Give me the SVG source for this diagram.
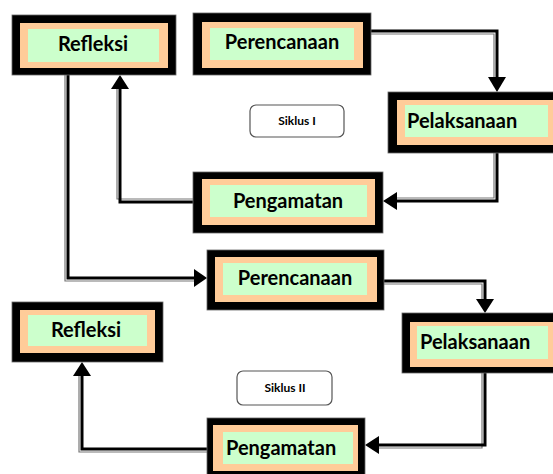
<svg xmlns="http://www.w3.org/2000/svg" width="553" height="474" viewBox="0 0 553 474">
<style>
.blk{fill:#000;stroke:#666;stroke-width:0.8}
.org{fill:#FFCC99}
.grn{fill:#CCFFCC}
.lbl{font-family:Lato,"Open Sans","DejaVu Sans",sans-serif;font-weight:bold;font-size:20px;fill:#000}
.sik{font-family:Lato,"Open Sans","DejaVu Sans",sans-serif;font-weight:bold;font-size:12px;fill:#000;text-anchor:middle}
.sbox{fill:#fff;stroke:#555;stroke-width:1.2}
.ln{fill:none;stroke:#000;stroke-width:3}
.sh{fill:none;stroke:#777;stroke-width:1.2}
.ah{fill:#000}
</style>
<rect width="553" height="474" fill="#fff"/>
<g id="connectors">
<path class="sh" d="M371,34 H494 V80"/>
<path class="ln" d="M371,31 H497 V80"/>
<polygon class="ah" points="497,92 488,77 506,77"/>
<path class="sh" d="M494,153 V198 H395"/>
<path class="ln" d="M497,153 V201 H395"/>
<polygon class="ah" points="383,201 397,192 397,210"/>
<path class="sh" d="M193,199 H117 V88"/>
<path class="ln" d="M193,202 H120 V88"/>
<polygon class="ah" points="120,75 111,89 129,89"/>
<path class="sh" d="M65,75 V281 H195"/>
<path class="ln" d="M68,75 V278 H195"/>
<polygon class="ah" points="207,278 194,269 194,287"/>
<path class="sh" d="M384,284 H482 V300"/>
<path class="ln" d="M384,281 H485 V300"/>
<polygon class="ah" points="485,313 476,299 494,299"/>
<path class="sh" d="M482,373 V448 H378"/>
<path class="ln" d="M485,373 V445 H378"/>
<polygon class="ah" points="365,445 379,436 379,454"/>
<path class="sh" d="M207,452 H79 V376"/>
<path class="ln" d="M207,449 H82 V376"/>
<polygon class="ah" points="82,362 73,376 91,376"/>
</g>
<g id="refleksi1">
<rect class="blk" x="12" y="15" width="164" height="60"/>
<rect class="org" x="20" y="23" width="148" height="45"/>
<rect class="grn" x="28" y="29" width="131" height="33"/>
<text class="lbl" x="93" y="51" text-anchor="middle">Refleksi</text>
</g>
<g id="perencanaan1">
<rect class="blk" x="193" y="13" width="178" height="62"/>
<rect class="org" x="202" y="22" width="161" height="46"/>
<rect class="grn" x="210" y="28" width="144" height="32"/>
<text class="lbl" x="282" y="49" text-anchor="middle">Perencanaan</text>
</g>
<g id="pelaksanaan1">
<rect class="blk" x="388" y="92" width="175" height="61"/>
<rect class="org" x="397" y="100" width="160" height="45"/>
<rect class="grn" x="405" y="105" width="143" height="32"/>
<text class="lbl" x="407" y="128">Pelaksanaan</text>
</g>
<g id="pengamatan1">
<rect class="blk" x="193" y="172" width="190" height="61"/>
<rect class="org" x="202" y="179" width="173" height="46"/>
<rect class="grn" x="210" y="185" width="157" height="32"/>
<text class="lbl" x="288" y="208" text-anchor="middle">Pengamatan</text>
</g>
<g id="siklus1">
<rect class="sbox" x="250" y="105" width="94" height="32" rx="6"/>
<text class="sik" x="297" y="125">Siklus I</text>
</g>
<g id="perencanaan2">
<rect class="blk" x="207" y="250" width="177" height="60"/>
<rect class="org" x="215" y="257" width="162" height="45"/>
<rect class="grn" x="223" y="263" width="144" height="32"/>
<text class="lbl" x="295" y="285" text-anchor="middle">Perencanaan</text>
</g>
<g id="refleksi2">
<rect class="blk" x="12" y="302" width="151" height="60"/>
<rect class="org" x="20" y="310" width="135" height="43"/>
<rect class="grn" x="28" y="315" width="119" height="31"/>
<text class="lbl" x="86" y="337" text-anchor="middle">Refleksi</text>
</g>
<g id="pelaksanaan2">
<rect class="blk" x="402" y="313" width="160" height="60"/>
<rect class="org" x="410" y="322" width="150" height="45"/>
<rect class="grn" x="417" y="326" width="131" height="33"/>
<text class="lbl" x="420" y="349">Pelaksanaan</text>
</g>
<g id="siklus2">
<rect class="sbox" x="237" y="371" width="95" height="34" rx="6"/>
<text class="sik" x="285" y="392">Siklus II</text>
</g>
<g id="pengamatan2">
<rect class="blk" x="207" y="418" width="158" height="62"/>
<rect class="org" x="213" y="425" width="145" height="46"/>
<rect class="grn" x="223" y="432" width="130" height="32"/>
<text class="lbl" x="226" y="455">Pengamatan</text>
</g>
</svg>
